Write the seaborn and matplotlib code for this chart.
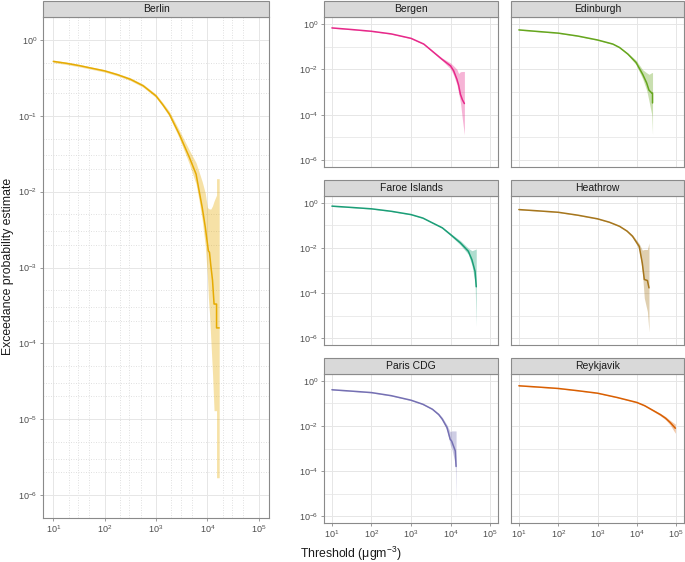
import numpy as np
import pandas as pd
import matplotlib
matplotlib.use("Agg")
import matplotlib.pyplot as plt
import seaborn as sns
from matplotlib.patches import Rectangle
from matplotlib.ticker import FixedLocator, FuncFormatter, NullLocator, NullFormatter

# ---- data (threshold, estimate, lower, upper) ----
berlin_x = [10, 18, 32, 56, 100, 178, 316, 562, 1000, 1350, 1820, 2820, 4470,
            6030, 6920, 7940, 9120, 10000, 10470, 11000, 11700, 12600, 13500, 15100,
            15100, 17000]
berlin_est = [0.519, 0.490, 0.457, 0.422, 0.389, 0.347, 0.302, 0.248, 0.182, 0.140,
              0.105, 0.0575, 0.0282, 0.0170, 0.0102, 0.00617, 0.00339, 0.0021,
              0.00166, 0.00158, 0.00105, 6.8e-4, 3.3e-4, 3.3e-4, 1.6e-4, 1.6e-4]
berlin_lo = [0.50, 0.472, 0.44, 0.407, 0.375, 0.334, 0.290, 0.237, 0.173, 0.132,
             0.097, 0.051, 0.023, 0.0125, 0.0075, 0.0042, 0.0019, 0.0008, 0.0004,
             2.5e-4, 1.1e-4, 4e-5, 1.3e-5, 1.3e-5, 1.7e-6, 1.7e-6]
berlin_hi = [0.54, 0.508, 0.475, 0.438, 0.405, 0.361, 0.316, 0.260, 0.192, 0.149,
             0.114, 0.065, 0.035, 0.024, 0.018, 0.0135, 0.0095, 0.0062, 0.0060, 0.0059,
             0.0059, 0.0065, 0.0075, 0.0090, 0.0148, 0.0148]

bergen_x = [10, 32, 100, 316, 1000, 2100, 4200, 6000, 10000, 12000, 14500, 16000, 17800,
            20000, 22400]
bergen_est = [0.66, 0.56, 0.47, 0.36, 0.23, 0.129, 0.047, 0.028, 0.0141, 0.0085, 0.0036,
              0.002, 7.8e-4, 4.5e-4, 3.1e-4]
bergen_lo = [0.64, 0.545, 0.455, 0.35, 0.22, 0.122, 0.043, 0.025, 0.0105, 0.0055, 0.0021,
             0.0009, 3.4e-4, 6e-5, 1.3e-5]
bergen_hi = [0.68, 0.575, 0.485, 0.37, 0.24, 0.136, 0.052, 0.032, 0.019, 0.014, 0.010,
             0.0065, 0.0078, 0.0080, 0.0080]

edinburgh_x = [10, 32, 100, 316, 1000, 2450, 3630, 5890, 9550, 14100, 17800, 20400,
               24000, 25100, 25100]
edinburgh_est = [0.54, 0.457, 0.39, 0.29, 0.195, 0.129, 0.091, 0.047, 0.020, 0.006,
                 0.0025, 0.0012, 9e-4, 9e-4, 3.3e-4]
edinburgh_lo = [0.525, 0.445, 0.38, 0.28, 0.187, 0.123, 0.086, 0.043, 0.016, 0.0038,
                0.0012, 4e-4, 1e-4, 1.3e-5, 1.3e-5]
edinburgh_hi = [0.555, 0.47, 0.40, 0.30, 0.203, 0.135, 0.097, 0.052, 0.025, 0.0095,
                0.0070, 0.0060, 0.0071, 0.0071, 0.0071]

faroe_x = [10, 32, 100, 316, 1000, 2000, 3470, 6170, 10000, 17800, 28200, 34700, 41700,
           44700]
faroe_est = [0.71, 0.62, 0.54, 0.42, 0.30, 0.21, 0.129, 0.078, 0.039, 0.0166, 0.0071,
             0.0030, 9.1e-4, 1.9e-4]
faroe_lo = [0.69, 0.605, 0.525, 0.41, 0.29, 0.202, 0.123, 0.073, 0.035, 0.0135, 0.0052,
            0.0017, 3e-4, 3.3e-6]
faroe_hi = [0.73, 0.635, 0.555, 0.43, 0.31, 0.218, 0.136, 0.084, 0.044, 0.021, 0.0097,
            0.0075, 0.0085, 0.0091]

heathrow_x = [10, 32, 100, 316, 1000, 2000, 3630, 5620, 7760, 11500, 13800, 15500, 18600,
              20400]
heathrow_est = [0.50, 0.437, 0.38, 0.282, 0.195, 0.138, 0.091, 0.056, 0.033, 0.0117,
                0.0021, 4e-4, 3.6e-4, 1.7e-4]
heathrow_lo = [0.485, 0.425, 0.37, 0.274, 0.187, 0.132, 0.086, 0.052, 0.029, 0.0088,
               0.0009, 6e-5, 1.5e-5, 1.9e-6]
heathrow_hi = [0.515, 0.45, 0.39, 0.29, 0.203, 0.144, 0.096, 0.061, 0.038, 0.0155,
               0.0080, 0.0085, 0.0085, 0.0166]

paris_x = [10, 32, 100, 316, 1000, 2000, 3470, 5010, 6170, 8130, 9770, 10700, 13200,
           13800]
paris_est = [0.40, 0.347, 0.30, 0.219, 0.138, 0.091, 0.055, 0.032, 0.020, 0.0085, 0.0026,
             0.0021, 7.8e-4, 1.6e-4]
paris_lo = [0.39, 0.338, 0.29, 0.212, 0.132, 0.087, 0.052, 0.029, 0.017, 0.0065, 0.0015,
            0.0010, 2e-4, 4.7e-6]
paris_hi = [0.41, 0.356, 0.31, 0.226, 0.144, 0.095, 0.059, 0.036, 0.024, 0.0110, 0.0055,
            0.0060, 0.0060, 0.0060]

reykjavik_x = [10, 32, 100, 316, 1000, 3160, 10000, 15800, 25100, 39800, 53700, 70800,
               95500]
reykjavik_est = [0.60, 0.525, 0.457, 0.363, 0.282, 0.182, 0.110, 0.079, 0.050, 0.0316,
                 0.022, 0.0141, 0.0079]
reykjavik_lo = [0.585, 0.512, 0.445, 0.354, 0.274, 0.176, 0.104, 0.074, 0.046, 0.028,
                0.019, 0.011, 0.0047]
reykjavik_hi = [0.615, 0.538, 0.47, 0.372, 0.29, 0.188, 0.116, 0.084, 0.055, 0.036,
                0.026, 0.0175, 0.012]

stations = ["Berlin", "Bergen", "Edinburgh", "Faroe Islands", "Heathrow", "Paris CDG", "Reykjavik"]
station_colors = ["#E6AB02", "#E7298A", "#66A61E", "#1B9E77", "#A6761D", "#7570B3", "#D95F02"]
series = {
    "Berlin": (berlin_x, berlin_est, berlin_lo, berlin_hi),
    "Bergen": (bergen_x, bergen_est, bergen_lo, bergen_hi),
    "Edinburgh": (edinburgh_x, edinburgh_est, edinburgh_lo, edinburgh_hi),
    "Faroe Islands": (faroe_x, faroe_est, faroe_lo, faroe_hi),
    "Heathrow": (heathrow_x, heathrow_est, heathrow_lo, heathrow_hi),
    "Paris CDG": (paris_x, paris_est, paris_lo, paris_hi),
    "Reykjavik": (reykjavik_x, reykjavik_est, reykjavik_lo, reykjavik_hi),
}

frames = []
for name in stations:
    x, est, lo, hi = series[name]
    frames.append(pd.DataFrame({"station": name, "threshold": x, "est": est,
                                "lo": lo, "hi": hi}))
df = pd.concat(frames, ignore_index=True)
colors = dict(zip(stations, station_colors))

sns.set_theme(style="white")
plt.rcParams["font.family"] = ["Liberation Sans", "DejaVu Sans"]
plt.rcParams["mathtext.fontset"] = "custom"
plt.rcParams["mathtext.rm"] = "Liberation Sans"
plt.rcParams["mathtext.it"] = "Liberation Sans:italic"

W, H = 685, 562
fig = plt.figure(figsize=(W / 100, H / 100), dpi=100)

BORDER = "#8a8a8a"
GRID = "#e6e6e6"


def add_panel(l, t, r, b):
    return fig.add_axes([l / W, 1 - b / H, (r - l) / W, (b - t) / H])


def add_strip(ax, name, strip_px):
    h_px = ax.get_position().height * H
    frac = strip_px / h_px
    ax.add_patch(Rectangle((0, 1), 1, frac, transform=ax.transAxes, clip_on=False,
                           facecolor="#d9d9d9", edgecolor=BORDER, lw=0.8, zorder=5))
    ax.text(0.5, 1 + frac / 2, name, transform=ax.transAxes, ha="center", va="center",
            fontsize=7.5, color="#1a1a1a", zorder=6)


def exp_fmt(v, pos):
    return r"$10^{%d}$" % int(round(np.log10(v)))


def draw(ax, name):
    d = df[df.station == name]
    c = colors[name]
    ax.fill_between(d.threshold, d.lo, d.hi, color=c, alpha=0.35, lw=0, zorder=2)
    sns.lineplot(data=d, x="threshold", y="est", ax=ax, color=c, lw=1.1,
                 sort=False, estimator=None, zorder=3)
    ax.set_xscale("log")
    ax.set_yscale("log")
    ax.set_xlim(10 ** 0.8, 10 ** 5.2)
    ax.set_ylim(10 ** -6.3, 10 ** 0.3)
    ax.set_xlabel("")
    ax.set_ylabel("")
    ax.xaxis.set_major_locator(FixedLocator([10 ** k for k in range(1, 6)]))
    ax.xaxis.set_major_formatter(FuncFormatter(exp_fmt))
    ax.yaxis.set_major_formatter(FuncFormatter(exp_fmt))
    ax.xaxis.set_minor_formatter(NullFormatter())
    ax.yaxis.set_minor_formatter(NullFormatter())
    for s in ax.spines.values():
        s.set_color(BORDER)
        s.set_linewidth(0.8)
    ax.tick_params(which="major", length=2.5, width=0.6, color=BORDER,
                   labelsize=6.5, labelcolor="#4d4d4d", pad=1.5,
                   bottom=True, left=True)
    ax.tick_params(which="minor", length=0)
    ax.set_axisbelow(True)


# Berlin, large panel
ax = add_panel(43, 17, 269, 518)
draw(ax, "Berlin")
ax.yaxis.set_major_locator(FixedLocator([10.0 ** -k for k in range(0, 7)]))
ax.xaxis.set_minor_locator(FixedLocator([m * 10 ** k for k in range(0, 6) for m in (2, 3, 5)]))
ax.yaxis.set_minor_locator(FixedLocator([m * 10.0 ** -k for k in range(1, 8) for m in (2, 3, 5)]))
ax.grid(which="major", color=GRID, lw=0.7)
ax.grid(which="minor", color="#dcdcdc", lw=0.6, ls=(0, (1.2, 1.8)))
add_strip(ax, "Berlin", 16)

# small panels
cols = [(324, 498), (511, 684)]
rows = [(17, 167), (196, 345), (374, 523)]
for i, name in enumerate(stations[1:]):
    r, cidx = divmod(i, 2)
    l, rr = cols[cidx]
    t, b = rows[r]
    ax = add_panel(l, t, rr, b)
    draw(ax, name)
    ax.yaxis.set_major_locator(FixedLocator([1, 1e-2, 1e-4, 1e-6]))
    ax.yaxis.set_minor_locator(FixedLocator([1e-1, 1e-3, 1e-5]))
    ax.xaxis.set_minor_locator(NullLocator())
    ax.grid(which="major", color=GRID, lw=0.7)
    ax.grid(which="minor", axis="y", color=GRID, lw=0.55)
    if r < 2:
        ax.tick_params(labelbottom=False, bottom=False)
    if cidx == 1:
        ax.tick_params(labelleft=False, left=False)
    add_strip(ax, name, 16.5)

fig.text(8 / W, 1 - 266 / H, "Exceedance probability estimate", rotation=90,
         ha="center", va="center", fontsize=8.8, color="#1a1a1a")
fig.text(300 / W, 1 - 554 / H, r"Threshold ($\mathregular{\mu gm^{-3}}$)",
         ha="left", va="center", fontsize=8.8, color="#1a1a1a")

fig.savefig("out.png", dpi=100)
